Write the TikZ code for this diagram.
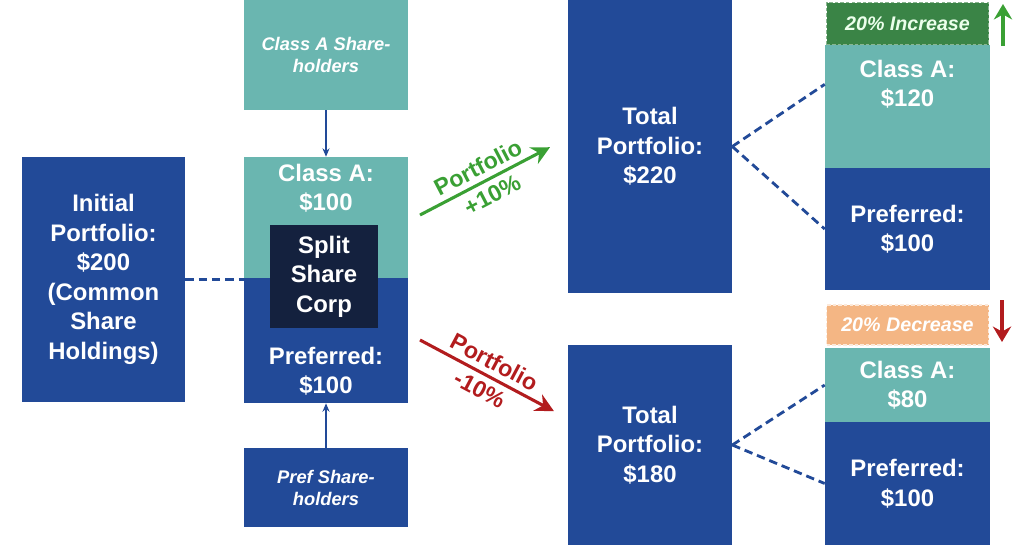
\documentclass[tikz,border=0pt]{standalone}
\usepackage{fontspec}
\setmainfont{Liberation Sans}
\usetikzlibrary{arrows.meta}

\definecolor{pblue}{RGB}{34,74,152}
\definecolor{pteal}{RGB}{106,182,176}
\definecolor{pnavy}{RGB}{20,33,62}
\definecolor{pgreen}{RGB}{58,160,52}
\definecolor{incgreen}{RGB}{58,132,70}
\definecolor{pred}{RGB}{178,28,30}
\definecolor{decorange}{RGB}{244,182,132}

\begin{document}
\begin{tikzpicture}[>=Stealth,
  box/.style={fill=pblue, text=white, align=center, inner sep=0pt,
    font=\bfseries\fontsize{17}{21}\selectfont},
  tealbox/.style={box, fill=pteal},
  boxtext/.style={text=white, align=center, font=\bfseries\fontsize{17}{21}\selectfont},
  holder/.style={box, font=\bfseries\itshape\fontsize{13}{15.6}\selectfont},
  tag/.style={inner sep=0pt, align=center, line width=0.8pt, dash pattern=on 2.5pt off 1.5pt,
    font=\bfseries\itshape\fontsize{14}{16}\selectfont},
  link/.style={pblue, line width=2pt, dash pattern=on 6pt off 3.5pt},
  feed/.style={pblue, line width=0.8pt, -{Stealth[length=6pt,width=5pt]}},
  move/.style={line width=2.2pt, -{Stealth[length=13pt,width=13pt]}},
  movetext/.style={midway, sloped, align=center, inner sep=1pt,
    font=\bfseries\fontsize{16.5}{22}\selectfont},
  sign/.style={line width=3.5pt, -{Stealth[length=11pt,width=13pt]}}]

\useasboundingbox (0,0) rectangle (25.6,-13.725);

% 初始组合
\node[box, minimum width=4.075cm, minimum height=6.125cm] (init) at (2.5875,-6.9875)
  {Initial\\Portfolio:\\\$200\\(Common\\Share\\Holdings)};

% 分拆股份公司
\node[holder, fill=pteal, minimum width=4.1cm, minimum height=2.75cm] (clsAsh) at (8.15,-1.375)
  {Class A Share-\\holders};
\node[tealbox, minimum width=4.1cm, minimum height=3.025cm] (clsA) at (8.15,-5.4375) {};
\node[box, minimum width=4.1cm, minimum height=3.125cm] (pref) at (8.15,-8.5125) {};
\node[boxtext] (clsAtxt) at (8.15,-4.7) {Class A:\\\$100};
\node[boxtext] (preftxt) at (8.15,-9.275) {Preferred:\\\$100};
\node[box, fill=pnavy, minimum width=2.7cm, minimum height=2.575cm] (split) at (8.1,-6.9125)
  {Split\\Share\\Corp};
\node[holder, minimum width=4.1cm, minimum height=1.975cm] (prefsh) at (8.15,-12.1875)
  {Pref Share-\\holders};

\draw[link] (init.east) -- (init.east -| clsA.west);
\draw[feed] (clsAsh.south) -- (clsA.north);
\draw[feed] (prefsh.north) -- (pref.south);

% 组合涨跌箭头
\coordinate (up0) at (10.5,-5.375);
\coordinate (up1) at (13.75,-3.68);
\coordinate (dn0) at (10.5,-8.5);
\coordinate (dn1) at (13.85,-10.28);
\draw[move, pgreen] (up0) -- (up1) node[movetext, text=pgreen] {Portfolio\\+10\%};
\draw[move, pred] (dn0) -- (dn1) node[movetext, text=pred] {Portfolio\\-10\%};

% 上涨情形
\node[box, minimum width=4.1cm, minimum height=7.325cm] (tot220) at (16.25,-3.6625)
  {Total\\Portfolio:\\\$220};
\node[tag, fill=incgreen, draw=incgreen!60!white, text=white!92!green, minimum width=4.05cm, minimum height=1.05cm]
  (inc) at (22.6875,-0.59) {20\% Increase};
\node[tealbox, minimum width=4.125cm, minimum height=3.075cm] (cA120) at (22.6875,-2.6625) {};
\node[boxtext] (cA120txt) at (22.6875,-2.1) {Class A:\\\$120};
\node[box, minimum width=4.125cm, minimum height=3.05cm] (pf100a) at (22.6875,-5.725) {Preferred:\\\$100};
\coordinate (incA) at (25.075,-1.15);
\coordinate (incB) at (25.075,-0.1);
\draw[sign, pgreen] (incA) -- (incB);
\draw[link] (tot220.east) -- (cA120.165);
\draw[link] (tot220.east) -- (pf100a.west);

% 下跌情形
\node[box, minimum width=4.1cm, minimum height=5cm] (tot180) at (16.25,-11.125)
  {Total\\Portfolio:\\\$180};
\node[tag, fill=decorange, draw=white!70!decorange, text=white, minimum width=4.05cm, minimum height=1cm]
  (dec) at (22.6875,-8.125) {20\% Decrease};
\node[tealbox, minimum width=4.125cm, minimum height=1.85cm] (cA80) at (22.6875,-9.625) {Class A:\\\$80};
\node[box, minimum width=4.125cm, minimum height=3.075cm] (pf100b) at (22.6875,-12.0875) {Preferred:\\\$100};
\coordinate (decA) at (25.05,-7.5);
\coordinate (decB) at (25.05,-8.55);
\draw[sign, pred] (decA) -- (decB);
\draw[link] (tot180.east) -- (cA80.west);
\draw[link] (tot180.east) -- (pf100b.west);

\end{tikzpicture}
\end{document}
